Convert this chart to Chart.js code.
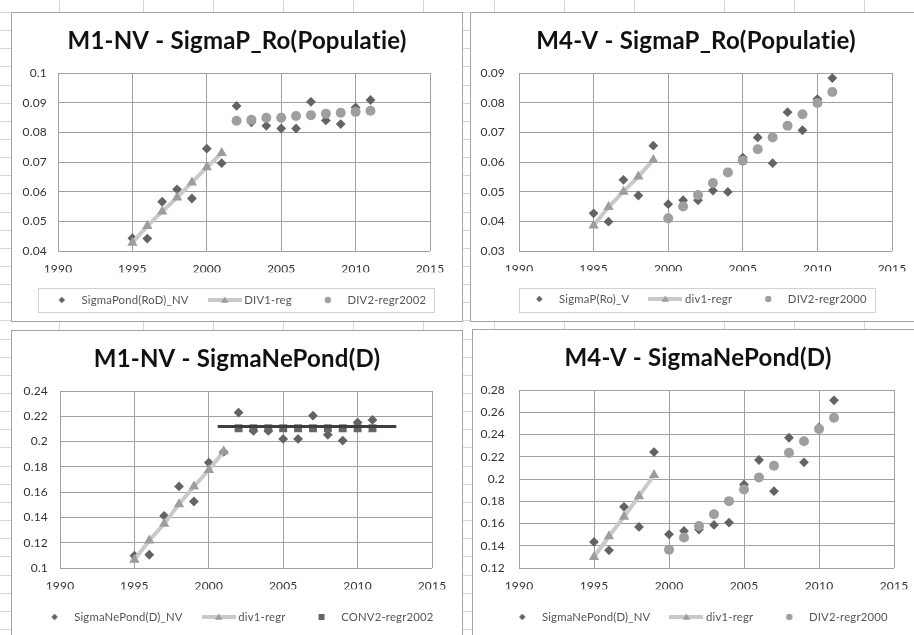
<!DOCTYPE html>
<html><head><meta charset="utf-8">
<script src="https://cdn.jsdelivr.net/npm/chart.js@4/dist/chart.umd.min.js"></script>
<style>
html,body{margin:0;padding:0;background:#fff;}
#page{position:relative;width:914px;height:635px;overflow:hidden;background:#fff;}
.vl{position:absolute;top:0;width:1px;height:635px;background:#d6d6d6;}
.hl{position:absolute;left:0;height:1px;width:914px;background:#d6d6d6;}
.panel{position:absolute;background:#fff;border:1px solid #a4a4a4;box-sizing:border-box;}
canvas{position:absolute;}
</style></head>
<body><div id="page"></div>
<script>
// ---------- data ----------
const xTicks = [1990, 1995, 2000, 2005, 2010, 2015];
const yearsAll = [1995,1996,1997,1998,1999,2000,2001,2002,2003,2004,2005,2006,2007,2008,2009,2010,2011];
const yearsDiv1Long = [1995,1996,1997,1998,1999,2000,2001];
const yearsDiv1Short = [1995,1996,1997,1998,1999];
const years2002 = [2002,2003,2004,2005,2006,2007,2008,2009,2010,2011];
const years2000 = [2000,2001,2002,2003,2004,2005,2006,2007,2008,2009,2010,2011];

// M1-NV - SigmaP_Ro(Populatie)
const p1Sigma = [0.0443,0.0442,0.0566,0.0608,0.0577,0.0745,0.0696,0.0889,0.0834,0.0822,0.0813,0.0813,0.0903,0.0840,0.0828,0.0884,0.0909];
const p1Div1  = [0.0428,0.0484,0.0533,0.0580,0.0631,0.0682,0.0730];
const p1Div2  = [0.0839,0.0842,0.0849,0.0849,0.0855,0.0858,0.0863,0.0866,0.0869,0.0873];

// M4-V - SigmaP_Ro(Populatie)
const p2Sigma = [0.0427,0.0399,0.0540,0.0487,0.0655,0.0458,0.0471,0.0471,0.0504,0.0499,0.0615,0.0683,0.0596,0.0768,0.0707,0.0812,0.0883];
const p2Div1  = [0.0386,0.0448,0.0500,0.0551,0.0607];
const p2Div2  = [0.0410,0.0450,0.0489,0.0529,0.0565,0.0604,0.0643,0.0683,0.0722,0.0761,0.0799,0.0836];

// M1-NV - SigmaNePond(D)
const p3Sigma = [0.1097,0.1105,0.1413,0.1645,0.1526,0.1834,0.1918,0.2229,0.2084,0.2084,0.2021,0.2021,0.2205,0.2053,0.2008,0.2150,0.2171];
const p3Div1  = [0.1066,0.1218,0.1350,0.1505,0.1645,0.1776,0.1921];
const p3Conv2 = [0.2105,0.2105,0.2105,0.2105,0.2105,0.2105,0.2105,0.2105,0.2105,0.2105];
const p3TrendX = [2000.6, 2012.6];
const p3TrendY = [0.2120, 0.2120];

// M4-V - SigmaNePond(D)
const p4Sigma = [0.1434,0.1359,0.1750,0.1569,0.2242,0.1503,0.1533,0.1545,0.1587,0.1608,0.1951,0.2171,0.1891,0.2371,0.2150,0.2464,0.2707];
const p4Div1  = [0.1299,0.1485,0.1660,0.1846,0.2035];
const p4Div2  = [0.1365,0.1474,0.1578,0.1683,0.1801,0.1906,0.2014,0.2119,0.2235,0.2340,0.2449,0.2551];

const yTicksP1 = [0.04,0.05,0.06,0.07,0.08,0.09,0.1];
const yTicksP2 = [0.03,0.04,0.05,0.06,0.07,0.08,0.09];
const yTicksP3 = [0.1,0.12,0.14,0.16,0.18,0.2,0.22,0.24];
const yTicksP4 = [0.12,0.14,0.16,0.18,0.2,0.22,0.24,0.26,0.28];

// ---------- page background (spreadsheet grid) ----------
const page = document.getElementById('page');
const colLines = [59,143,213,283,353,423,494,564,634,724,794,864];
colLines.forEach(x => { const d = document.createElement('div'); d.className = 'vl'; d.style.left = x + 'px'; page.appendChild(d); });
for (let y = 11.9; y < 635; y += 18.15) { const d = document.createElement('div'); d.className = 'hl'; d.style.top = Math.round(y) + 'px'; page.appendChild(d); }

// ---------- styles ----------
const C_DIAMOND = '#636363';
const C_TRI = '#9d9d9d';
const C_LINE = '#c9c9c9';
const C_CIRCLE = '#9f9f9f';
const C_SQUARE = '#666666';
const C_TREND = '#3f3f3f';
const FONT = "Lato, 'Open Sans', sans-serif";
const LEG_FONT = 11.3;

function sym(kind) {
  const c = document.createElement('canvas');
  const w = kind === 'lineTri' ? 34 : 12;
  c.width = w; c.height = 12;
  const g = c.getContext('2d');
  const cx = w / 2, cy = 6;
  if (kind === 'diamond') {
    g.fillStyle = C_DIAMOND; g.beginPath();
    g.moveTo(cx, cy - 3.2); g.lineTo(cx + 3.2, cy); g.lineTo(cx, cy + 3.2); g.lineTo(cx - 3.2, cy); g.closePath(); g.fill();
  } else if (kind === 'circle') {
    g.fillStyle = C_CIRCLE; g.beginPath(); g.arc(cx, cy, 3.2, 0, Math.PI * 2); g.fill();
  } else if (kind === 'square') {
    g.fillStyle = C_SQUARE; g.fillRect(cx - 3, cy - 3, 6, 6);
  } else {
    g.strokeStyle = C_LINE; g.lineWidth = 4; g.beginPath(); g.moveTo(0, cy); g.lineTo(w, cy); g.stroke();
    g.fillStyle = C_TRI; g.beginPath();
    g.moveTo(cx, cy - 3.5); g.lineTo(cx + 3.8, cy + 2.8); g.lineTo(cx - 3.8, cy + 2.8); g.closePath(); g.fill();
  }
  return c;
}

function pts(xs, ys) { return xs.map((x, i) => ({x: x, y: ys[i]})); }

const spacingPlugin = {
  id: 'spacing',
  beforeLayout(chart) { chart.ctx.letterSpacing = '0.2px'; },
  beforeDraw(chart) { chart.ctx.letterSpacing = '0.2px'; }
};

function makePanel(p) {
  const panel = document.createElement('div');
  panel.className = 'panel';
  Object.assign(panel.style, {left: p.box[0] + 'px', top: p.box[1] + 'px', width: p.box[2] + 'px', height: p.box[3] + 'px'});
  page.appendChild(panel);

  const cv = document.createElement('canvas');
  cv.width = p.W; cv.height = p.H;
  cv.style.left = p.cx + 'px'; cv.style.top = p.cy + 'px';
  cv.style.width = p.W + 'px'; cv.style.height = p.H + 'px';
  page.appendChild(cv);

  const TITLE_SIZE = 24;
  const titleLH = TITLE_SIZE * 1.2;
  const legPad = 22;
  const legendTop = p.legendY - legPad - LEG_FONT / 2;
  const legendBottom = legendTop + LEG_FONT + legPad + 10;
  const pb = p.H - legendBottom;
  const xAxisH = legendTop - p.plot.bottom;

  const legendBoxPlugin = {
    id: 'legendBox',
    afterDraw(chart) {
      if (!p.legendBox) return;
      const ctx = chart.ctx; const b = p.legendBox;
      ctx.save(); ctx.strokeStyle = '#d2d2d2'; ctx.lineWidth = 1;
      ctx.strokeRect(b[0] + 0.5, b[1] + 0.5, b[2] - b[0], b[3] - b[1]);
      ctx.restore();
    }
  };

  new Chart(cv, {
    type: 'scatter',
    data: {datasets: p.datasets},
    plugins: [spacingPlugin, legendBoxPlugin],
    options: {
      responsive: false, animation: false, devicePixelRatio: 1, events: [],
      layout: {padding: {left: 0, right: 0, top: 0, bottom: pb}},
      plugins: {
        tooltip: {enabled: false},
        title: {
          display: true, text: p.title, color: '#111',
          font: {family: FONT, size: TITLE_SIZE, weight: 'bold', lineHeight: 1.2},
          padding: {top: p.titleY - titleLH / 2, bottom: p.plot.top - p.titleY - titleLH / 2}
        },
        legend: {
          position: 'bottom',
          labels: {
            usePointStyle: true, pointStyleWidth: 28, boxHeight: LEG_FONT, padding: legPad,
            color: '#555', font: {family: FONT, size: LEG_FONT},
            generateLabels: (chart) => chart.data.datasets
              .map((ds, i) => ({ds, i}))
              .filter(o => o.ds.legendSym)
              .map(o => ({text: o.ds.label, pointStyle: sym(o.ds.legendSym), fillStyle: 'transparent', strokeStyle: 'transparent', lineWidth: 0, hidden: false, datasetIndex: o.i, fontColor: '#555'}))
          }
        }
      },
      scales: {
        x: {
          type: 'linear', position: 'bottom', min: xTicks[0], max: xTicks[xTicks.length - 1],
          afterBuildTicks: (s) => { s.ticks = xTicks.map(v => ({value: v})); },
          afterFit: (s) => { s.height = xAxisH; },
          grid: {color: '#a0a0a0', drawTicks: false, lineWidth: 1},
          border: {display: false},
          ticks: {padding: 11, color: '#333', font: {family: FONT, size: 12}, maxRotation: 0, autoSkip: false, callback: (v) => String(v)}
        },
        y: {
          type: 'linear', position: 'left', min: p.yTicks[0], max: p.yTicks[p.yTicks.length - 1],
          afterBuildTicks: (s) => { s.ticks = p.yTicks.map(v => ({value: v})); },
          afterFit: (s) => { s.width = p.plot.left; },
          grid: {color: '#a0a0a0', drawTicks: false, lineWidth: 1},
          border: {display: false},
          ticks: {padding: p.yPad, color: '#333', font: {family: FONT, size: 12}, autoSkip: false, callback: (v) => String(+Number(v).toFixed(4))}
        },
        yr: {
          type: 'linear', position: 'right', display: true,
          afterFit: (s) => { s.width = p.W - p.plot.right; },
          grid: {display: false, drawTicks: false}, border: {display: false},
          ticks: {display: false}
        }
      }
    }
  });
}

function diamondDs(label, xs, ys) {
  return {label, legendSym: 'diamond', data: pts(xs, ys), pointStyle: 'rectRot', pointRadius: 4.9,
    backgroundColor: C_DIAMOND, borderColor: C_DIAMOND, borderWidth: 0, pointBorderWidth: 0, showLine: false, order: 3};
}
function lineTriDs(label, xs, ys) {
  return {label, legendSym: 'lineTri', data: pts(xs, ys), showLine: true, tension: 0, borderColor: C_LINE, borderWidth: 4,
    pointStyle: 'triangle', pointRadius: 6, pointBackgroundColor: C_TRI, pointBorderColor: C_TRI, pointBorderWidth: 0, order: 2};
}
function circleDs(label, xs, ys) {
  return {label, legendSym: 'circle', data: pts(xs, ys), pointStyle: 'circle', pointRadius: 5,
    backgroundColor: C_CIRCLE, borderColor: C_CIRCLE, borderWidth: 0, pointBorderWidth: 0, showLine: false, order: 1};
}
function squareDs(label, xs, ys) {
  return {label, legendSym: 'square', data: pts(xs, ys), pointStyle: 'rect', pointRadius: 5.6,
    backgroundColor: C_SQUARE, borderColor: C_SQUARE, borderWidth: 0, pointBorderWidth: 0, showLine: false, order: 1};
}

makePanel({
  box: [11, 12, 452, 310], cx: 12, cy: 13, W: 450, H: 307,
  plot: {left: 46, right: 418, top: 60, bottom: 238}, titleY: 28, legendY: 287, yPad: 11,
  legendBox: [26, 275, 422, 299],
  title: 'M1-NV - SigmaP_Ro(Populatie)', yTicks: yTicksP1,
  datasets: [
    diamondDs('SigmaPond(RoD)_NV', yearsAll, p1Sigma),
    lineTriDs('DIV1-reg', yearsDiv1Long, p1Div1),
    circleDs('DIV2-regr2002', years2002, p1Div2)
  ]
});

makePanel({
  box: [470, 12, 452, 310], cx: 471, cy: 13, W: 450, H: 307,
  plot: {left: 48, right: 421, top: 60, bottom: 238}, titleY: 28, legendY: 286, yPad: 14,
  legendBox: [48, 275, 404, 299],
  title: 'M4-V - SigmaP_Ro(Populatie)', yTicks: yTicksP2,
  datasets: [
    diamondDs('SigmaP(Ro)_V', yearsAll, p2Sigma),
    lineTriDs('div1-regr', yearsDiv1Short, p2Div1),
    circleDs('DIV2-regr2000', years2000, p2Div2)
  ]
});

makePanel({
  box: [11, 330, 452, 320], cx: 12, cy: 331, W: 450, H: 304,
  plot: {left: 48, right: 420, top: 60, bottom: 237}, titleY: 28, legendY: 286, yPad: 12,
  legendBox: null,
  title: 'M1-NV - SigmaNePond(D)', yTicks: yTicksP3,
  datasets: [
    diamondDs('SigmaNePond(D)_NV', yearsAll, p3Sigma),
    lineTriDs('div1-regr', yearsDiv1Long, p3Div1),
    squareDs('CONV2-regr2002', years2002, p3Conv2),
    {label: 'trend', data: pts(p3TrendX, p3TrendY), showLine: true, borderColor: C_TREND, borderWidth: 3, pointRadius: 0, order: 0}
  ]
});

makePanel({
  box: [472, 329, 452, 320], cx: 473, cy: 330, W: 450, H: 305,
  plot: {left: 46, right: 421, top: 60, bottom: 238}, titleY: 28, legendY: 287, yPad: 14,
  legendBox: null,
  title: 'M4-V - SigmaNePond(D)', yTicks: yTicksP4,
  datasets: [
    diamondDs('SigmaNePond(D)_NV', yearsAll, p4Sigma),
    lineTriDs('div1-regr', yearsDiv1Short, p4Div1),
    circleDs('DIV2-regr2000', years2000, p4Div2)
  ]
});
</script>
</body></html>
